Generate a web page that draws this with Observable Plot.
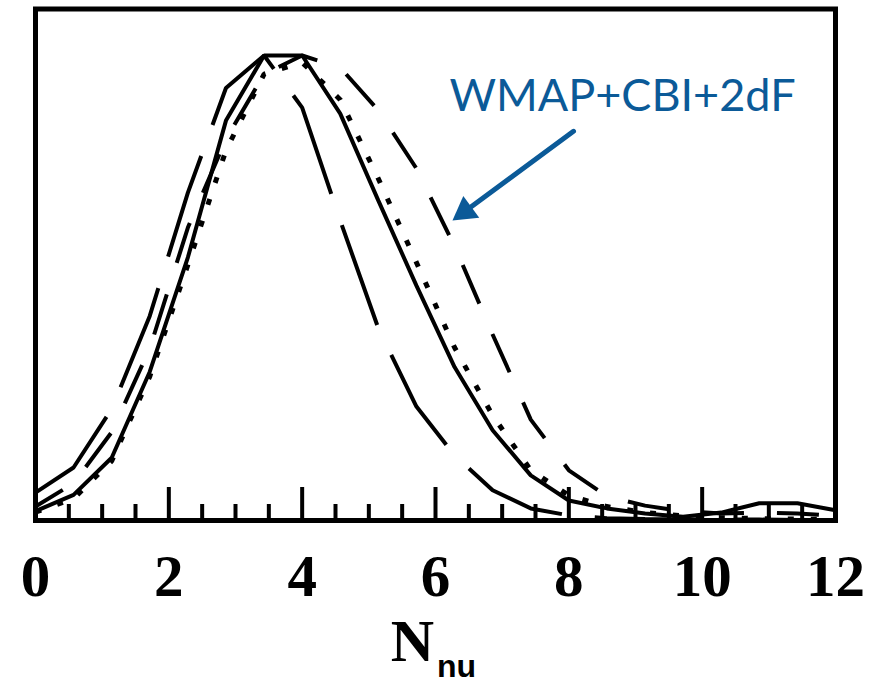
<!DOCTYPE html>
<html><head><meta charset="utf-8">
<script src="https://cdn.jsdelivr.net/npm/d3@7"></script>
<script src="https://cdn.jsdelivr.net/npm/@observablehq/plot@0.6"></script>
<style>body{margin:0;background:#fff}</style>
</head><body><div id="chart"></div>
<script>
// N_nu grid at which the curves are sampled
const nGrid = [0, 0.571, 1.143, 1.714, 2.286, 2.857, 3.429, 4.0, 4.571, 5.143, 5.714,
               6.286, 6.857, 7.429, 8.0, 8.571, 9.143, 9.714, 10.286, 10.857, 11.429, 12.0];
// normalised likelihoods
const solidCurve  = [0.02, 0.055, 0.135, 0.32, 0.566, 0.86, 1.0, 1.0, 0.875, 0.688, 0.505,
                     0.33, 0.194, 0.097, 0.043, 0.026, 0.015, 0.008, 0.017, 0.037, 0.037, 0.022];
const dottedCurve = [0.018, 0.047, 0.128, 0.31, 0.55, 0.796, 0.96, 0.985, 0.905, 0.735, 0.555,
                     0.372, 0.226, 0.108, 0.054, 0.03, 0.017, 0.01, 0.006, 0.004, 0.003, 0.002];
const shortDashCurve = [0.03, 0.08, 0.19, 0.37, 0.63, 0.82, 0.96, 1.0, 0.974, 0.882, 0.757,
                        0.59, 0.40, 0.217, 0.108, 0.052, 0.032, 0.02, 0.015, 0.017, 0.015, 0.01];
const longDashCurve = [0.06, 0.114, 0.24, 0.44, 0.705, 0.93, 1.0, 0.888, 0.645, 0.413, 0.245,
                       0.14, 0.065, 0.026, 0.011, 0.005, 0.003, 0.002, 0.002, 0.002, 0.001, 0.001];
const majorTicks = [0, 2, 4, 6, 8, 10, 12];
const minorTicks = [0.5, 1, 1.5, 2.5, 3, 3.5, 4.5, 5, 5.5, 6.5, 7, 7.5, 8.5, 9, 9.5, 10.5, 11, 11.5];
const tickLabels = ["0", "2", "4", "6", "8", "10", "12"];
const annotationText = "WMAP+CBI+2dF";
const annotationPos = {x: 8.805, y: 0.88};
const arrowFrom = {x: 8.07, y: 0.837};
const arrowTo = {x: 6.255, y: 0.645};
const xLabelMain = "N";
const xLabelSub = "nu";
const xLabelAt = 6;

const blue = "#0b5a98";
const serif = "'Liberation Serif', 'DejaVu Serif', serif";

function curve(values, opts) {
  return Plot.line(nGrid, {x: d => d, y: (d, i) => values[i], stroke: "black",
    strokeWidth: 4, strokeLinejoin: "miter", strokeLinecap: "butt", ...opts});
}

const plot = Plot.plot({
  width: 888, height: 682,
  marginLeft: 35, marginRight: 53, marginTop: 8.5, marginBottom: 162,
  x: {domain: [0, 12], axis: null},
  y: {domain: [0, 1.1], axis: null},
  style: {background: "white", overflow: "visible"},
  marks: [
    curve(longDashCurve, {strokeDasharray: "106,33"}),
    curve(shortDashCurve, {strokeDasharray: "42,33", strokeDashoffset: 10}),
    curve(dottedCurve, {strokeWidth: 5, strokeDasharray: "6,17"}),
    curve(solidCurve, {}),
    Plot.ruleX(minorTicks, {x: d => d, stroke: "black", strokeWidth: 4, insetTop: 495.5}),
    Plot.ruleX(majorTicks, {x: d => d, stroke: "black", strokeWidth: 4, insetTop: 478.5}),
    Plot.frame({stroke: "black", strokeWidth: 5}),
    Plot.text(majorTicks, {x: d => d, text: (d, i) => tickLabels[i], frameAnchor: "bottom",
      dy: 75, lineAnchor: "bottom", fontSize: 59, fontWeight: "bold", fontFamily: serif, fill: "black"}),
    Plot.text([xLabelMain], {x: () => xLabelAt, text: d => d, frameAnchor: "bottom", dy: 140, dx: -23,
      lineAnchor: "bottom", fontSize: 60, fontWeight: "bold", fontFamily: serif, fill: "black"}),
    Plot.text([xLabelSub], {x: () => xLabelAt, text: d => d, frameAnchor: "bottom", dy: 156, dx: 21,
      lineAnchor: "bottom", fontSize: 32, fontWeight: "bold", fontFamily: "'Liberation Sans', Arial, sans-serif", fill: "black"}),
    Plot.text([annotationText], {x: () => annotationPos.x, y: () => annotationPos.y, text: d => d,
      lineAnchor: "bottom", fontSize: 45, fill: blue, fontFamily: "'Comic Sans MS', Lato, sans-serif"}),
    Plot.arrow([0], {x1: () => arrowFrom.x, y1: () => arrowFrom.y, x2: () => arrowTo.x, y2: () => arrowTo.y,
      headLength: 0, insetEnd: 14, stroke: blue, strokeWidth: 5}),
    Plot.dot([0], {x: () => arrowTo.x, y: () => arrowTo.y, dx: 12.5, dy: -9.2, symbol: "triangle",
      r: 10, fill: blue, stroke: "none", rotate: -126.3})
  ]
});
document.getElementById("chart").appendChild(plot);
</script>
</body></html>
